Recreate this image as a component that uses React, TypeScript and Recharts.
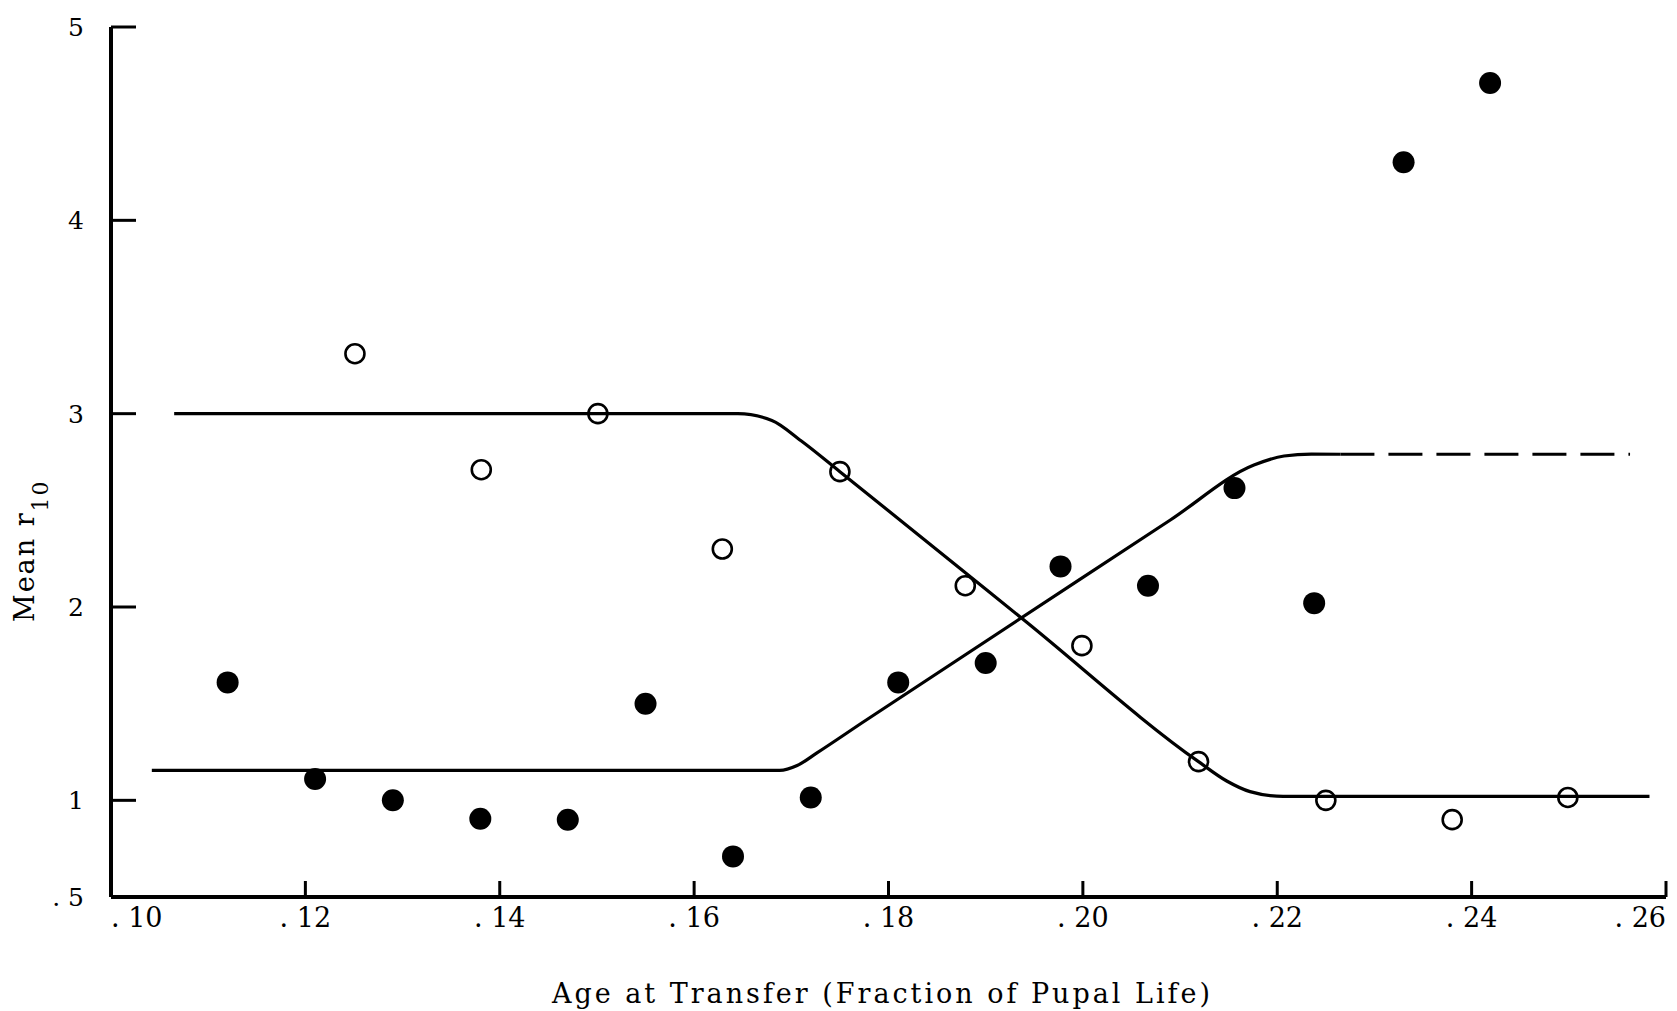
import React from 'react';
import { ComposedChart, Line, Scatter, XAxis, YAxis, Label } from 'recharts';

// Filled circles
const filledAge = [0.112, 0.121, 0.129, 0.138, 0.147, 0.155, 0.164, 0.172, 0.181, 0.19, 0.1977, 0.2067, 0.2156, 0.2238, 0.233, 0.2419];
const filledR10 = [1.61, 1.11, 1.0, 0.905, 0.9, 1.5, 0.71, 1.015, 1.61, 1.71, 2.21, 2.11, 2.615, 2.02, 4.3, 4.71];

// Open circles
const openAge = [0.1251, 0.1381, 0.1501, 0.1629, 0.175, 0.1879, 0.1999, 0.2119, 0.225, 0.238, 0.2499];
const openR10 = [3.31, 2.71, 3.0, 2.3, 2.7, 2.11, 1.8, 1.2, 1.0, 0.9, 1.015];

// Fitted curve through the open circles (falls from 3 to 1)
const fallAge = [0.1065, 0.1645, 0.168, 0.171, 0.175, 0.194, 0.2119, 0.2148, 0.2172, 0.2206, 0.225, 0.2583];
const fallR10 = [3.0, 3.0, 2.965, 2.86, 2.7, 1.93, 1.2, 1.1, 1.045, 1.02, 1.02, 1.02];

// Fitted curve through the filled circles (rises from 1.15 to 2.8)
const riseAge = [0.1042, 0.1688, 0.1706, 0.1726, 0.1774, 0.209, 0.2176, 0.2207, 0.2235, 0.2265];
const riseR10 = [1.155, 1.155, 1.18, 1.244, 1.405, 2.45, 2.734, 2.781, 2.791, 2.79];

// Dashed continuation of the rising curve
const riseDashAge = [0.2265, 0.2563];
const riseDashR10 = [2.79, 2.79];

const xTicks = [0.1, 0.12, 0.14, 0.16, 0.18, 0.2, 0.22, 0.24, 0.26];
const xTickLabels = ['. 10', '. 12', '. 14', '. 16', '. 18', '. 20', '. 22', '. 24', '. 26'];
const yTicks = [0.5, 1, 2, 3, 4, 5];
const yTickLabels = ['. 5', '1', '2', '3', '4', '5'];

const toPoints = (xs: number[], ys: number[]) => xs.map((x, i) => ({ x, y: ys[i] }));

const filled = toPoints(filledAge, filledR10);
const open = toPoints(openAge, openR10);
const fall = toPoints(fallAge, fallR10);
const rise = toPoints(riseAge, riseR10);
const riseDash = toPoints(riseDashAge, riseDashR10);

const FONT = '"DejaVu Serif", serif';

const XTick = (props: any) => {
  const { x, y, index } = props;
  const anchor = index === 0 ? 'start' : index === xTicks.length - 1 ? 'end' : 'middle';
  return (
    <text x={x} y={y} dy="0.71em" textAnchor={anchor} fontFamily={FONT} fontSize={27} fill="#000">
      {xTickLabels[index]}
    </text>
  );
};

const YTick = (props: any) => {
  const { x, y, index } = props;
  return (
    <text x={x} y={y} dy="0.355em" textAnchor="end" fontFamily={FONT} fontSize={25} fill="#000">
      {yTickLabels[index]}
    </text>
  );
};

const FilledDot = (props: any) => <circle cx={props.cx} cy={props.cy} r={11} fill="#000" />;
const OpenDot = (props: any) => (
  <circle cx={props.cx} cy={props.cy} r={9.5} fill="none" stroke="#000" strokeWidth={2.6} />
);

export default function App() {
  return (
    <div style={{ position: 'absolute', left: 0, top: 0, background: '#fff' }}>
      <ComposedChart width={1677} height={1011} margin={{ top: 27, right: 11, left: 0, bottom: 0 }}>
        <XAxis
          dataKey="x"
          type="number"
          domain={[0.1, 0.26]}
          ticks={xTicks}
          interval={0}
          height={114}
          tickSize={-16}
          tickMargin={27}
          tick={<XTick />}
          axisLine={{ stroke: '#000', strokeWidth: 4 }}
          tickLine={{ stroke: '#000', strokeWidth: 3 }}
        >
          <Label
            content={() => (
              <text x={881} y={1003} textAnchor="middle" fontFamily={FONT} fontSize={27} fill="#000" textLength={658} lengthAdjust="spacing">
                Age at Transfer (Fraction of Pupal Life)
              </text>
            )}
          />
        </XAxis>
        <YAxis
          dataKey="y"
          type="number"
          domain={[0.5, 5]}
          ticks={yTicks}
          interval={0}
          width={111}
          tickSize={-25}
          tickMargin={52}
          tick={<YTick />}
          axisLine={{ stroke: '#000', strokeWidth: 4 }}
          tickLine={{ stroke: '#000', strokeWidth: 3 }}
        >
          <Label
            content={() => (
              <text x={34} y={622} transform="rotate(-90, 34, 622)" fontFamily={FONT} fontSize={27} letterSpacing={2} fill="#000">
                Mean r<tspan dy={14} fontSize={22}>10</tspan>
              </text>
            )}
          />
        </YAxis>
        <Line data={fall} dataKey="y" type="monotone" stroke="#000" strokeWidth={3.2} dot={false} activeDot={false} isAnimationActive={false} />
        <Line data={rise} dataKey="y" type="monotone" stroke="#000" strokeWidth={3.2} dot={false} activeDot={false} isAnimationActive={false} />
        <Line data={riseDash} dataKey="y" type="linear" stroke="#000" strokeWidth={3.2} strokeDasharray="34 14" dot={false} activeDot={false} isAnimationActive={false} />
        <Scatter data={open} dataKey="y" shape={<OpenDot />} isAnimationActive={false} />
        <Scatter data={filled} dataKey="y" shape={<FilledDot />} isAnimationActive={false} />
      </ComposedChart>
    </div>
  );
}
